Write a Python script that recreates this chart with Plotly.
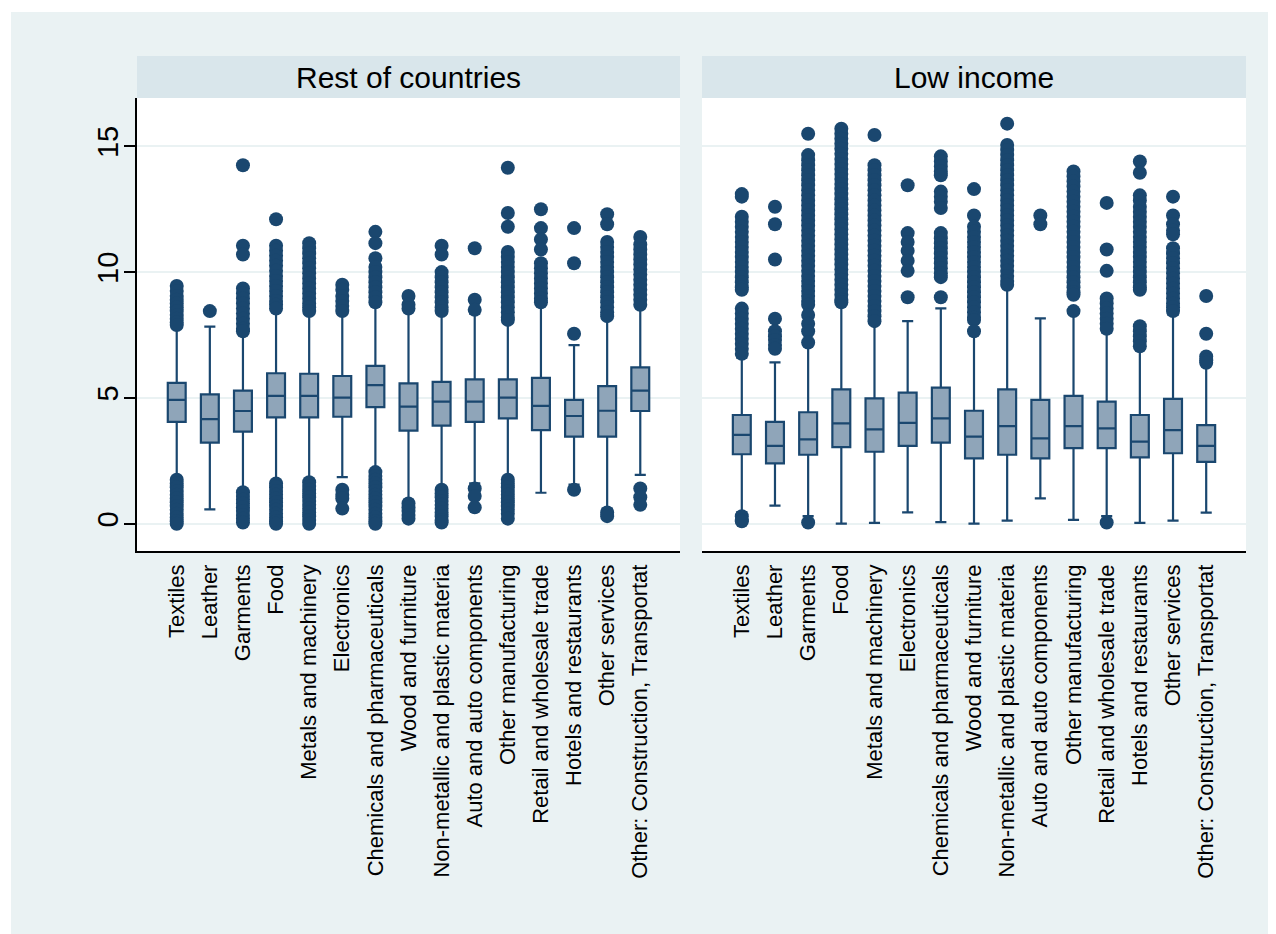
import plotly.graph_objects as go
from plotly.subplots import make_subplots

# Categories (sectors)
sectors = [
    "Textiles", "Leather", "Garments", "Food", "Metals and machinery",
    "Electronics", "Chemicals and pharmaceuticals", "Wood and furniture",
    "Non-metallic and plastic materia", "Auto and auto components",
    "Other manufacturing", "Retail and wholesale trade",
    "Hotels and restaurants", "Other services",
    "Other: Construction, Transportat",
]
panel_titles = ["Rest of countries", "Low income"]

# Rest of countries: box statistics
rest_q1 = [4.05, 3.22, 3.66, 4.23, 4.23, 4.25, 4.63, 3.70, 3.90, 4.05, 4.19, 3.72, 3.46, 3.46, 4.48]
rest_med = [4.92, 4.16, 4.48, 5.08, 5.08, 5.01, 5.51, 4.65, 4.85, 4.85, 5.01, 4.68, 4.28, 4.49, 5.29]
rest_q3 = [5.60, 5.14, 5.29, 5.98, 5.96, 5.87, 6.27, 5.58, 5.64, 5.74, 5.74, 5.80, 4.92, 5.47, 6.21]
rest_lo = [1.85, 0.57, 1.35, 1.70, 1.75, 1.85, 2.15, 0.95, 1.45, 1.60, 1.85, 1.23, 1.55, 0.60, 1.94]
rest_hi = [7.80, 7.83, 7.55, 8.50, 8.35, 8.40, 8.70, 8.45, 8.35, 8.35, 8.00, 8.70, 7.10, 8.15, 8.60]
rest_out = [
    [9.45, 9.25, 9.05, 8.9, 8.75, 8.6, 8.45, 8.3, 8.15, 8.0, 7.9,
     1.75, 1.6, 1.45, 1.3, 1.15, 1.0, 0.85, 0.7, 0.55, 0.4, 0.25, 0.1, 0.0],
    [8.45],
    [14.25, 11.05, 10.7, 9.35, 9.15, 8.95, 8.75, 8.55, 8.35, 8.15, 7.95, 7.75, 7.65,
     1.25, 1.1, 0.95, 0.8, 0.65, 0.5, 0.35, 0.2, 0.05],
    [12.1, 11.05, 10.85, 10.65, 10.45, 10.25, 10.05, 9.85, 9.65, 9.45, 9.25, 9.05, 8.85, 8.7, 8.55,
     1.6, 1.45, 1.3, 1.15, 1.0, 0.85, 0.7, 0.55, 0.4, 0.25, 0.1, 0.0],
    [11.15, 10.95, 10.75, 10.55, 10.35, 10.15, 9.95, 9.75, 9.55, 9.35, 9.15, 8.95, 8.75, 8.6, 8.45,
     1.65, 1.5, 1.35, 1.2, 1.05, 0.9, 0.75, 0.6, 0.45, 0.3, 0.15, 0.0],
    [9.5, 9.3, 9.05, 8.85, 8.65, 8.45, 1.35, 1.15, 1.0, 0.6],
    [11.6, 11.15, 10.55, 10.2, 10.0, 9.8, 9.6, 9.4, 9.2, 9.0, 8.8,
     2.05, 1.9, 1.75, 1.6, 1.45, 1.3, 1.15, 1.0, 0.85, 0.7, 0.55, 0.4, 0.25, 0.1, 0.0],
    [9.05, 8.7, 8.55, 0.8, 0.65, 0.5, 0.35, 0.2],
    [11.05, 10.7, 10.0, 9.8, 9.6, 9.4, 9.2, 9.0, 8.8, 8.6, 8.45,
     1.35, 1.2, 1.05, 0.9, 0.75, 0.6, 0.45, 0.3, 0.15, 0.05],
    [10.95, 8.9, 8.5, 1.4, 1.1, 0.65],
    [14.15, 12.35, 11.8, 10.8, 10.6, 10.4, 10.2, 10.0, 9.8, 9.6, 9.4, 9.2, 9.0, 8.8, 8.6, 8.4, 8.2, 8.1,
     1.75, 1.6, 1.45, 1.3, 1.15, 1.0, 0.85, 0.7, 0.55, 0.4, 0.2],
    [12.5, 11.75, 11.3, 10.9, 10.35, 10.15, 9.95, 9.75, 9.55, 9.35, 9.15, 8.95, 8.8],
    [11.75, 10.35, 7.55, 1.35],
    [12.3, 11.9, 11.2, 11.0, 10.8, 10.6, 10.4, 10.2, 10.0, 9.8, 9.6, 9.4, 9.2, 9.0, 8.8, 8.6, 8.4, 8.25,
     0.45, 0.3],
    [11.4, 11.1, 10.9, 10.7, 10.5, 10.3, 10.1, 9.9, 9.7, 9.5, 9.3, 9.1, 8.9, 8.7, 1.4, 1.05, 0.75],
]

# Low income: box statistics
low_q1 = [2.76, 2.40, 2.74, 3.04, 2.86, 3.09, 3.22, 2.60, 2.74, 2.60, 3.00, 3.00, 2.64, 2.80, 2.46]
low_med = [3.53, 3.09, 3.35, 3.99, 3.75, 4.01, 4.19, 3.46, 3.88, 3.39, 3.88, 3.79, 3.26, 3.72, 3.09]
low_q3 = [4.32, 4.05, 4.43, 5.34, 4.98, 5.21, 5.41, 4.49, 5.34, 4.92, 5.08, 4.85, 4.32, 4.96, 3.92]
low_lo = [0.45, 0.72, 0.30, 0.00, 0.03, 0.45, 0.06, 0.00, 0.12, 1.01, 0.15, 0.30, 0.03, 0.12, 0.44]
low_hi = [6.60, 6.41, 7.10, 8.75, 7.95, 8.05, 8.56, 7.55, 9.40, 8.16, 8.35, 7.60, 6.95, 8.30, 6.30]
low_out = [
    [13.1, 13.0, 12.2, 12.0, 11.8, 11.6, 11.4, 11.2, 11.0, 10.8, 10.6, 10.4, 10.2, 10.0, 9.8, 9.6, 9.4, 9.3,
     8.55, 8.35, 8.15, 7.95, 7.75, 7.55, 7.35, 7.15, 6.95, 6.75, 0.3, 0.15, 0.1],
    [12.6, 11.9, 10.5, 8.15, 7.65, 7.45, 7.3, 7.1, 6.95],
    [15.5, 14.65, 14.45, 14.25, 14.05, 13.85, 13.65, 13.45, 13.25, 13.05, 12.85, 12.65, 12.45, 12.25,
     12.05, 11.85, 11.65, 11.45, 11.25, 11.05, 10.85, 10.65, 10.45, 10.25, 10.05, 9.85, 9.65, 9.45,
     9.25, 9.05, 8.85, 8.7, 8.3, 7.95, 7.65, 7.2, 0.05],
    [15.7, 15.5, 15.3, 15.1, 14.9, 14.7, 14.5, 14.3, 14.1, 13.9, 13.7, 13.5, 13.3, 13.1, 12.9, 12.7,
     12.5, 12.3, 12.1, 11.9, 11.7, 11.5, 11.3, 11.1, 10.9, 10.7, 10.5, 10.3, 10.1, 9.9, 9.7, 9.5,
     9.3, 9.1, 8.9, 8.8],
    [15.45, 14.25, 14.05, 13.85, 13.65, 13.45, 13.25, 13.05, 12.85, 12.65, 12.45, 12.25, 12.05, 11.85,
     11.65, 11.45, 11.25, 11.05, 10.85, 10.65, 10.45, 10.25, 10.05, 9.85, 9.65, 9.45, 9.25, 9.05,
     8.85, 8.65, 8.45, 8.25, 8.05],
    [13.45, 11.55, 11.2, 10.85, 10.45, 10.05, 9.0],
    [14.6, 14.4, 14.2, 14.0, 13.85, 13.2, 13.0, 12.8, 12.55, 11.55, 11.35, 11.15, 10.95, 10.75,
     10.55, 10.35, 10.15, 9.95, 9.8, 9.0],
    [13.3, 12.25, 11.8, 11.6, 11.4, 11.2, 11.0, 10.8, 10.6, 10.4, 10.2, 10.0, 9.8, 9.6, 9.4, 9.2,
     9.0, 8.8, 8.6, 8.4, 8.2, 8.1, 7.65],
    [15.9, 15.05, 14.85, 14.65, 14.45, 14.25, 14.05, 13.85, 13.65, 13.45, 13.25, 13.05, 12.85, 12.65,
     12.45, 12.25, 12.05, 11.85, 11.65, 11.45, 11.25, 11.05, 10.85, 10.65, 10.45, 10.25, 10.05, 9.85,
     9.65, 9.5],
    [12.25, 11.9],
    [14.0, 13.8, 13.6, 13.4, 13.2, 13.0, 12.8, 12.6, 12.4, 12.2, 12.0, 11.8, 11.6, 11.4, 11.2, 11.0,
     10.8, 10.6, 10.4, 10.2, 10.0, 9.8, 9.6, 9.4, 9.2, 9.1, 8.45],
    [12.75, 10.9, 10.05, 8.95, 8.75, 8.55, 8.35, 8.15, 7.95, 7.75, 0.05],
    [14.4, 13.95, 13.05, 12.85, 12.6, 12.4, 12.2, 12.0, 11.8, 11.6, 11.4, 11.2, 11.0, 10.8, 10.6,
     10.4, 10.2, 10.0, 9.8, 9.6, 9.4, 9.3, 7.85, 7.65, 7.45, 7.25, 7.05],
    [13.0, 12.25, 11.9, 11.65, 11.5, 10.95, 10.75, 10.55, 10.35, 10.15, 9.95, 9.75, 9.55, 9.35,
     9.15, 8.95, 8.75, 8.6, 8.45],
    [9.05, 7.55, 6.65, 6.5, 6.4],
]

NAVY = "#1A476F"
BOXFILL = "#8FA5B9"
BG = "#EAF2F3"
STRIP = "#D9E6EB"
FONT = "Liberation Sans, Arial, sans-serif"

# pixel layout (the page body adds an 8px offset)
W, H = 1276, 934
L, R, T, B = 129, 38, 90, 391
plot_w = W - L - R
plot_h = H - T - B
p1_end = (672 - L) / plot_w
p2_start = (694 - L) / plot_w

fig = make_subplots(rows=1, cols=2, shared_yaxes=True, horizontal_spacing=0.02)

positions = list(range(len(sectors)))
panels = [
    (rest_q1, rest_med, rest_q3, rest_lo, rest_hi, rest_out),
    (low_q1, low_med, low_q3, low_lo, low_hi, low_out),
]
for col, (q1, med, q3, lo, hi, outs) in enumerate(panels, start=1):
    fig.add_trace(
        go.Box(
            x=positions, q1=q1, median=med, q3=q3,
            lowerfence=lo, upperfence=hi,
            boxpoints=False, width=0.54, whiskerwidth=0.62,
            fillcolor=BOXFILL, line=dict(color=NAVY, width=2.2),
            showlegend=False, hoverinfo="skip",
        ),
        row=1, col=col,
    )
    ox, oy = [], []
    for i, vals in enumerate(outs):
        ox.extend([i] * len(vals))
        oy.extend(vals)
    fig.add_trace(
        go.Scatter(
            x=ox, y=oy, mode="markers",
            marker=dict(color=NAVY, size=14, line=dict(width=0)),
            showlegend=False, hoverinfo="skip",
        ),
        row=1, col=col,
    )

xcommon = dict(
    range=[-1.2, 15.2], tickmode="array", tickvals=positions, ticktext=sectors,
    tickangle=-90, tickfont=dict(size=22, color="black", family=FONT),
    ticks="", showgrid=False, zeroline=False, ticklabelstandoff=3,
    showline=True, linecolor="black", linewidth=1.5,
)
fig.update_xaxes(**xcommon)
fig.update_xaxes(domain=[0, p1_end], row=1, col=1)
fig.update_xaxes(domain=[p2_start, 1], row=1, col=2)

fig.update_yaxes(
    range=[-1.085, 16.92], tickmode="array", tickvals=[0, 5, 10, 15],
    showgrid=True, gridcolor=BG, gridwidth=2, zeroline=False,
)
fig.update_yaxes(
    tickangle=-90, tickfont=dict(size=29, color="black", family=FONT),
    ticks="outside", ticklen=11, tickwidth=1.5, tickcolor="black",
    showline=True, linecolor="black", linewidth=1.5,
    ticklabelstandoff=-5,
    row=1, col=1,
)
fig.update_yaxes(showticklabels=False, ticks="", showline=False, row=1, col=2)

# header strips and titles
strip_top = 1 + (90 - 48) / plot_h
shapes = []
annotations = []
for (x0, x1), title in zip([(0, p1_end), (p2_start, 1)], panel_titles):
    shapes.append(dict(type="rect", xref="paper", yref="paper", x0=x0, x1=x1,
                       y0=1, y1=strip_top, fillcolor=STRIP, line=dict(width=0)))
    annotations.append(dict(xref="paper", yref="paper", x=(x0 + x1) / 2, y=(1 + strip_top) / 2,
                            text=title, showarrow=False, xanchor="center", yanchor="middle",
                            font=dict(size=30, color="black", family=FONT)))

# thin white outer border on top and left
shapes.append(dict(type="rect", xref="paper", yref="paper",
                   x0=-L / plot_w, x1=(W - L) / plot_w,
                   y0=(plot_h + T - 4) / plot_h, y1=(plot_h + T) / plot_h,
                   fillcolor="white", line=dict(width=0)))
shapes.append(dict(type="rect", xref="paper", yref="paper",
                   x0=-L / plot_w, x1=(3 - L) / plot_w,
                   y0=-B / plot_h, y1=(plot_h + T) / plot_h,
                   fillcolor="white", line=dict(width=0)))

fig.update_layout(
    width=W, height=H,
    margin=dict(l=L, r=R, t=T, b=B),
    paper_bgcolor=BG, plot_bgcolor="white",
    font=dict(family=FONT, color="black"),
    shapes=shapes, annotations=annotations,
    showlegend=False,
)

fig.write_html("out.html")
